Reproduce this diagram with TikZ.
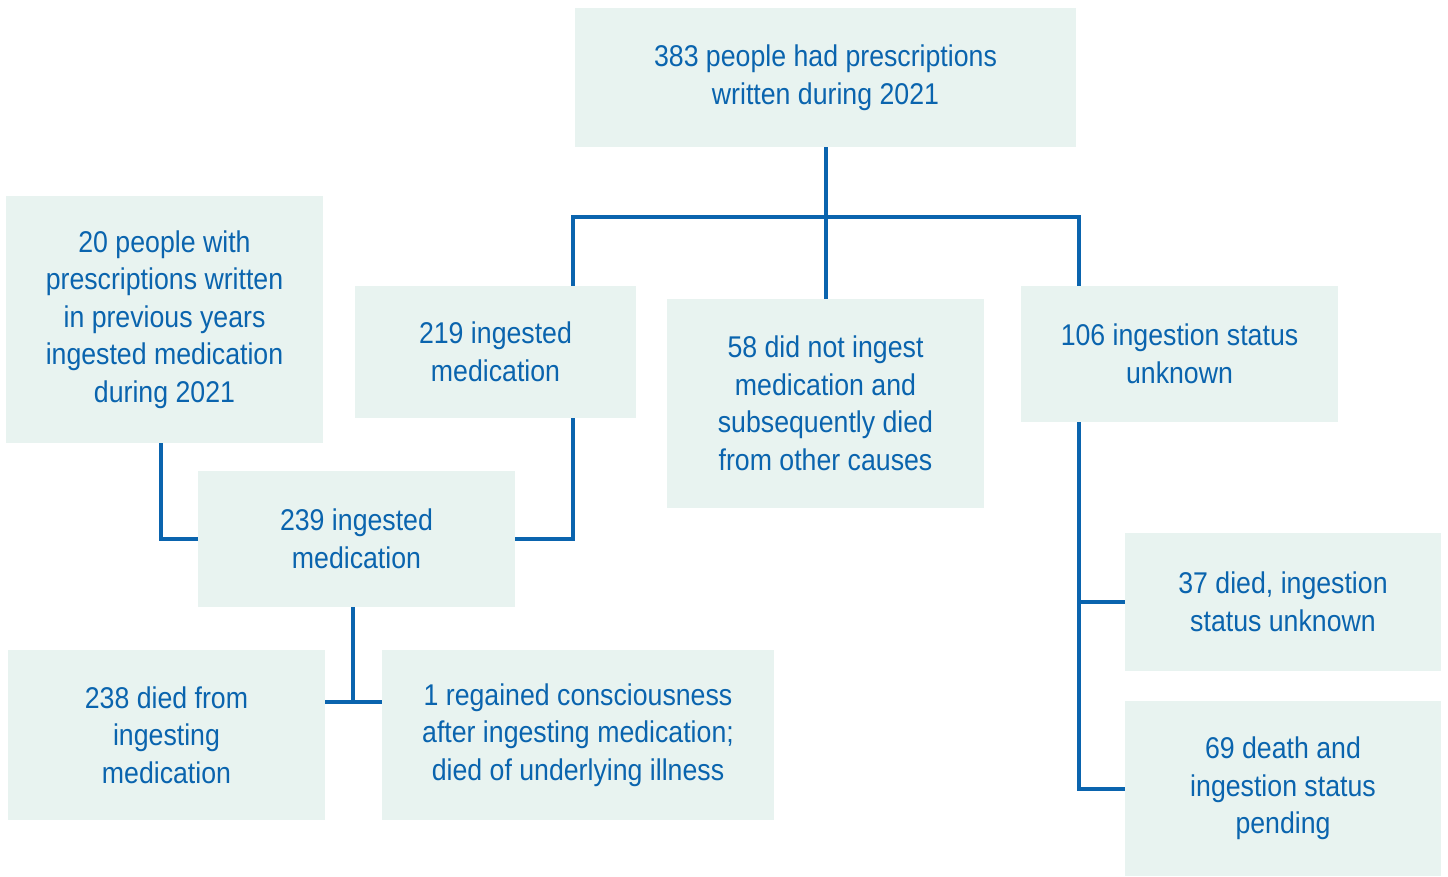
\documentclass[tikz,border=0pt]{standalone}
\usepackage{fontspec}
\setmainfont[FakeStretch=0.89]{Liberation Sans}
\usepackage{xcolor}
\usepackage{tikz}
\definecolor{boxfill}{RGB}{232,243,240}
\definecolor{flow}{RGB}{10,100,174}
\tikzstyle{stage} = [rectangle, fill=boxfill, text=flow, align=center, inner sep=0pt, font=\fontsize{30}{37.5}\selectfont]
\tikzstyle{line} = [draw=flow, line width=4pt]

\begin{document}
\begin{tikzpicture}[x=1pt, y=-1pt]
    \useasboundingbox (0,0) rectangle (1448,876);
    \node [stage, minimum width=501, minimum height=139] (total) at (825.5,77.5) {383 people had prescriptions\\written during 2021};
    \node [stage, minimum width=317, minimum height=247] (prior) at (164.5,319.5) {20 people with\\prescriptions written\\in previous years\\ingested medication\\during 2021};
    \node [stage, minimum width=281, minimum height=132] (ingested) at (495.5,352) {219 ingested\\medication};
    \node [stage, minimum width=317, minimum height=209] (notingested) at (825.5,403.5) {58 did not ingest\\medication and\\subsequently died\\from other causes};
    \node [stage, minimum width=317, minimum height=136] (unknown) at (1179.5,354) {106 ingestion status\\unknown};
    \node [stage, minimum width=317, minimum height=136] (alling) at (356.5,539) {239 ingested\\medication};
    \node [stage, minimum width=317, minimum height=170] (diedmed) at (166.5,735) {238 died from\\ingesting\\medication};
    \node [stage, minimum width=392, minimum height=170] (regained) at (578,735) {1 regained consciousness\\after ingesting medication;\\died of underlying illness};
    \node [stage, minimum width=316, minimum height=138] (diedunk) at (1283,602) {37 died, ingestion\\status unknown};
    \node [stage, minimum width=316, minimum height=175] (pending) at (1283,788.5) {69 death and\\ingestion status\\pending};

    \coordinate (busL) at (573,217);
    \coordinate (busR) at (1079,217);
    \coordinate (fork) at (353,702);

    \path [line] (total) -- (notingested);
    \path [line] (busL |- ingested.north) -- (busL) -- (busR) -- (busR |- unknown.north);
    \path [line] (busL |- ingested.south) |- (alling.east);
    \path [line] ([xshift=-4pt]prior.south) |- (alling.west);
    \path [line] (fork |- alling.south) -- (fork);
    \path [line] (diedmed.east |- fork) -- (regained.west |- fork);
    \path [line] (busR |- unknown.south) |- (pending.west);
    \path [line] (busR |- diedunk.west) -- (diedunk.west);
\end{tikzpicture}
\end{document}
